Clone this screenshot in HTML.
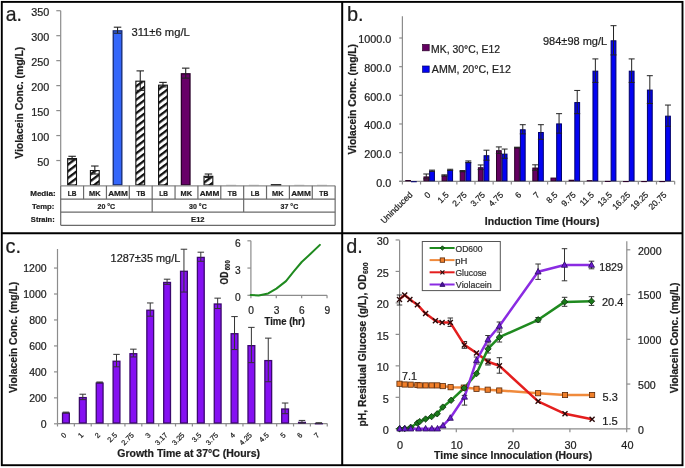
<!DOCTYPE html>
<html><head><meta charset="utf-8"><style>
html,body{margin:0;padding:0;background:#fff;}
svg{display:block;}
text{font-family:"Liberation Sans",sans-serif;}
</style></head><body>
<svg width="685" height="468" viewBox="0 0 685 468" style="will-change:transform">
<defs>
<pattern id="hatch" patternUnits="userSpaceOnUse" width="10" height="5.35" patternTransform="rotate(-37)">
<rect width="10" height="5.35" fill="#fff"/><rect width="10" height="2.3" fill="#111"/>
</pattern>
</defs>
<rect width="685" height="468" fill="#fff"/>
<line x1="60.7" y1="10.71" x2="60.7" y2="185.8" stroke="#8c8c8c" stroke-width="1.2" />
<line x1="56.3" y1="160.53" x2="60.7" y2="160.53" stroke="#8c8c8c" stroke-width="1.2" />
<text transform="translate(37.34,166.09)" font-size="10.8" font-weight="normal" fill="#1e1e1e" stroke="#1e1e1e" stroke-width="0.22" >50</text>
<line x1="56.3" y1="135.56" x2="60.7" y2="135.56" stroke="#8c8c8c" stroke-width="1.2" />
<text transform="translate(31.35,141.12)" font-size="10.8" font-weight="normal" fill="#1e1e1e" stroke="#1e1e1e" stroke-width="0.22" >100</text>
<line x1="56.3" y1="110.59" x2="60.7" y2="110.59" stroke="#8c8c8c" stroke-width="1.2" />
<text transform="translate(31.35,116.15)" font-size="10.8" font-weight="normal" fill="#1e1e1e" stroke="#1e1e1e" stroke-width="0.22" >150</text>
<line x1="56.3" y1="85.62" x2="60.7" y2="85.62" stroke="#8c8c8c" stroke-width="1.2" />
<text transform="translate(31.35,91.18)" font-size="10.8" font-weight="normal" fill="#1e1e1e" stroke="#1e1e1e" stroke-width="0.22" >200</text>
<line x1="56.3" y1="60.65" x2="60.7" y2="60.65" stroke="#8c8c8c" stroke-width="1.2" />
<text transform="translate(31.35,66.21)" font-size="10.8" font-weight="normal" fill="#1e1e1e" stroke="#1e1e1e" stroke-width="0.22" >250</text>
<line x1="56.3" y1="35.68" x2="60.7" y2="35.68" stroke="#8c8c8c" stroke-width="1.2" />
<text transform="translate(31.35,41.24)" font-size="10.8" font-weight="normal" fill="#1e1e1e" stroke="#1e1e1e" stroke-width="0.22" >300</text>
<line x1="56.3" y1="10.71" x2="60.7" y2="10.71" stroke="#8c8c8c" stroke-width="1.2" />
<text transform="translate(31.35,16.27)" font-size="10.8" font-weight="normal" fill="#1e1e1e" stroke="#1e1e1e" stroke-width="0.22" >350</text>
<rect x="67.7" y="158.58" width="8.8" height="26.37" fill="url(#hatch)" stroke="#111" stroke-width="1.1" />
<line x1="72.1" y1="156.29" x2="72.1" y2="159.78" stroke="#222" stroke-width="1.1" />
<line x1="68.35" y1="156.29" x2="75.85" y2="156.29" stroke="#222" stroke-width="1.1" />
<line x1="68.35" y1="159.78" x2="75.85" y2="159.78" stroke="#222" stroke-width="1.1" />
<rect x="90.42" y="170.57" width="8.8" height="14.38" fill="url(#hatch)" stroke="#111" stroke-width="1.1" />
<line x1="94.82" y1="166.02" x2="94.82" y2="174.01" stroke="#222" stroke-width="1.1" />
<line x1="91.07" y1="166.02" x2="98.57" y2="166.02" stroke="#222" stroke-width="1.1" />
<line x1="91.07" y1="174.01" x2="98.57" y2="174.01" stroke="#222" stroke-width="1.1" />
<rect x="113.24" y="30.84" width="8.6" height="154.01" fill="#3466fa" stroke="#142870" stroke-width="1.3" />
<line x1="117.54" y1="27.19" x2="117.54" y2="33.18" stroke="#222" stroke-width="1.1" />
<line x1="113.79" y1="27.19" x2="121.29" y2="27.19" stroke="#222" stroke-width="1.1" />
<line x1="113.79" y1="33.18" x2="121.29" y2="33.18" stroke="#222" stroke-width="1.1" />
<rect x="135.86" y="81.18" width="8.8" height="103.77" fill="url(#hatch)" stroke="#111" stroke-width="1.1" />
<line x1="140.26" y1="70.89" x2="140.26" y2="90.36" stroke="#222" stroke-width="1.1" />
<line x1="136.51" y1="70.89" x2="144.01" y2="70.89" stroke="#222" stroke-width="1.1" />
<line x1="136.51" y1="90.36" x2="144.01" y2="90.36" stroke="#222" stroke-width="1.1" />
<rect x="158.58" y="85.17" width="8.8" height="99.78" fill="url(#hatch)" stroke="#111" stroke-width="1.1" />
<line x1="162.98" y1="82.37" x2="162.98" y2="86.87" stroke="#222" stroke-width="1.1" />
<line x1="159.23" y1="82.37" x2="166.73" y2="82.37" stroke="#222" stroke-width="1.1" />
<line x1="159.23" y1="86.87" x2="166.73" y2="86.87" stroke="#222" stroke-width="1.1" />
<rect x="181.4" y="73.78" width="8.6" height="111.07" fill="#680068" stroke="#2a002a" stroke-width="1.3" />
<line x1="185.7" y1="68.14" x2="185.7" y2="78.13" stroke="#222" stroke-width="1.1" />
<line x1="181.95" y1="68.14" x2="189.45" y2="68.14" stroke="#222" stroke-width="1.1" />
<line x1="181.95" y1="78.13" x2="189.45" y2="78.13" stroke="#222" stroke-width="1.1" />
<rect x="204.02" y="176.31" width="8.8" height="8.64" fill="url(#hatch)" stroke="#111" stroke-width="1.1" />
<line x1="208.42" y1="174.01" x2="208.42" y2="177.51" stroke="#222" stroke-width="1.1" />
<line x1="204.67" y1="174.01" x2="212.17" y2="174.01" stroke="#222" stroke-width="1.1" />
<line x1="204.67" y1="177.51" x2="212.17" y2="177.51" stroke="#222" stroke-width="1.1" />
<line x1="226.14" y1="185.2" x2="236.14" y2="185.2" stroke="#c8c8c8" stroke-width="1" />
<line x1="248.86" y1="185.2" x2="258.86" y2="185.2" stroke="#c8c8c8" stroke-width="1" />
<rect x="270.78" y="184.1" width="10.5" height="1.9" fill="#1a1a1a" stroke="none" stroke-width="1" />
<line x1="294.3" y1="185.2" x2="304.3" y2="185.2" stroke="#c8c8c8" stroke-width="1" />
<line x1="317.02" y1="185.2" x2="327.02" y2="185.2" stroke="#c8c8c8" stroke-width="1" />
<line x1="60.7" y1="185.8" x2="335.14" y2="185.8" stroke="#8c8c8c" stroke-width="1.3" />
<line x1="60.7" y1="199.1" x2="335.14" y2="199.1" stroke="#6a6a6a" stroke-width="1.2" />
<line x1="60.7" y1="212.1" x2="335.14" y2="212.1" stroke="#6a6a6a" stroke-width="1.2" />
<line x1="60.7" y1="225.3" x2="335.14" y2="225.3" stroke="#6a6a6a" stroke-width="1.2" />
<line x1="60.7" y1="185.8" x2="60.7" y2="199.1" stroke="#6a6a6a" stroke-width="1.2" />
<line x1="83.57" y1="185.8" x2="83.57" y2="199.1" stroke="#6a6a6a" stroke-width="1.2" />
<line x1="106.44" y1="185.8" x2="106.44" y2="199.1" stroke="#6a6a6a" stroke-width="1.2" />
<line x1="129.31" y1="185.8" x2="129.31" y2="199.1" stroke="#6a6a6a" stroke-width="1.2" />
<line x1="152.18" y1="185.8" x2="152.18" y2="199.1" stroke="#6a6a6a" stroke-width="1.2" />
<line x1="175.05" y1="185.8" x2="175.05" y2="199.1" stroke="#6a6a6a" stroke-width="1.2" />
<line x1="197.92" y1="185.8" x2="197.92" y2="199.1" stroke="#6a6a6a" stroke-width="1.2" />
<line x1="220.79" y1="185.8" x2="220.79" y2="199.1" stroke="#6a6a6a" stroke-width="1.2" />
<line x1="243.66" y1="185.8" x2="243.66" y2="199.1" stroke="#6a6a6a" stroke-width="1.2" />
<line x1="266.53" y1="185.8" x2="266.53" y2="199.1" stroke="#6a6a6a" stroke-width="1.2" />
<line x1="289.4" y1="185.8" x2="289.4" y2="199.1" stroke="#6a6a6a" stroke-width="1.2" />
<line x1="312.27" y1="185.8" x2="312.27" y2="199.1" stroke="#6a6a6a" stroke-width="1.2" />
<line x1="335.14" y1="185.8" x2="335.14" y2="199.1" stroke="#6a6a6a" stroke-width="1.2" />
<line x1="60.7" y1="199.1" x2="60.7" y2="212.1" stroke="#6a6a6a" stroke-width="1.2" />
<line x1="152.18" y1="199.1" x2="152.18" y2="212.1" stroke="#6a6a6a" stroke-width="1.2" />
<line x1="243.66" y1="199.1" x2="243.66" y2="212.1" stroke="#6a6a6a" stroke-width="1.2" />
<line x1="335.14" y1="199.1" x2="335.14" y2="212.1" stroke="#6a6a6a" stroke-width="1.2" />
<line x1="60.7" y1="212.1" x2="60.7" y2="225.3" stroke="#6a6a6a" stroke-width="1.2" />
<line x1="335.14" y1="212.1" x2="335.14" y2="225.3" stroke="#6a6a6a" stroke-width="1.2" />
<text transform="translate(67.71,196.08) scale(0.87,1)" font-size="7.5" font-weight="bold" fill="#1e1e1e" stroke="#1e1e1e" stroke-width="0.22" >LB</text>
<text transform="translate(89.02,196.08) scale(0.99,1)" font-size="7.5" font-weight="bold" fill="#1e1e1e" stroke="#1e1e1e" stroke-width="0.22" >MK</text>
<text transform="translate(108.17,196.08) scale(1.1,1)" font-size="7.5" font-weight="bold" fill="#1e1e1e" stroke="#1e1e1e" stroke-width="0.22" >AMM</text>
<text transform="translate(136.38,196.08) scale(0.9,1)" font-size="7.5" font-weight="bold" fill="#1e1e1e" stroke="#1e1e1e" stroke-width="0.22" >TB</text>
<text transform="translate(159.19,196.08) scale(0.87,1)" font-size="7.5" font-weight="bold" fill="#1e1e1e" stroke="#1e1e1e" stroke-width="0.22" >LB</text>
<text transform="translate(180.5,196.08) scale(0.99,1)" font-size="7.5" font-weight="bold" fill="#1e1e1e" stroke="#1e1e1e" stroke-width="0.22" >MK</text>
<text transform="translate(199.65,196.08) scale(1.1,1)" font-size="7.5" font-weight="bold" fill="#1e1e1e" stroke="#1e1e1e" stroke-width="0.22" >AMM</text>
<text transform="translate(227.86,196.08) scale(0.9,1)" font-size="7.5" font-weight="bold" fill="#1e1e1e" stroke="#1e1e1e" stroke-width="0.22" >TB</text>
<text transform="translate(250.67,196.08) scale(0.87,1)" font-size="7.5" font-weight="bold" fill="#1e1e1e" stroke="#1e1e1e" stroke-width="0.22" >LB</text>
<text transform="translate(271.98,196.08) scale(0.99,1)" font-size="7.5" font-weight="bold" fill="#1e1e1e" stroke="#1e1e1e" stroke-width="0.22" >MK</text>
<text transform="translate(291.13,196.08) scale(1.1,1)" font-size="7.5" font-weight="bold" fill="#1e1e1e" stroke="#1e1e1e" stroke-width="0.22" >AMM</text>
<text transform="translate(319.34,196.08) scale(0.9,1)" font-size="7.5" font-weight="bold" fill="#1e1e1e" stroke="#1e1e1e" stroke-width="0.22" >TB</text>
<text transform="translate(97.54,208.9) scale(0.88,1)" font-size="8" font-weight="bold" fill="#1e1e1e" stroke="#1e1e1e" stroke-width="0.22" >20 °C</text>
<text transform="translate(189.09,208.9) scale(0.88,1)" font-size="8" font-weight="bold" fill="#1e1e1e" stroke="#1e1e1e" stroke-width="0.22" >30 °C</text>
<text transform="translate(280.57,208.9) scale(0.88,1)" font-size="8" font-weight="bold" fill="#1e1e1e" stroke="#1e1e1e" stroke-width="0.22" >37 °C</text>
<text transform="translate(191.06,222.2) scale(0.95,1)" font-size="8" font-weight="bold" fill="#1e1e1e" stroke="#1e1e1e" stroke-width="0.22" >E12</text>
<text transform="translate(30.18,195.61) scale(1.06,1)" font-size="7.6" font-weight="bold" fill="#1e1e1e" stroke="#1e1e1e" stroke-width="0.22" >Media:</text>
<text transform="translate(31.92,208.64) scale(1.01,1)" font-size="7.6" font-weight="bold" fill="#1e1e1e" stroke="#1e1e1e" stroke-width="0.22" >Temp:</text>
<text transform="translate(30.87,221.81) scale(0.99,1)" font-size="7.6" font-weight="bold" fill="#1e1e1e" stroke="#1e1e1e" stroke-width="0.22" >Strain:</text>
<text transform="translate(131.45,35.59) scale(1.06,1)" font-size="10.6" font-weight="normal" fill="#1e1e1e" stroke="#1e1e1e" stroke-width="0.22" >311±6 mg/L</text>
<text transform="translate(23.31,158.8) rotate(-90) scale(0.9,1)" font-size="11.6" font-weight="bold" fill="#1e1e1e" stroke="#1e1e1e" stroke-width="0.22">Violacein Conc. (mg/L)</text>
<text transform="translate(5.63,20.7) scale(0.98,1)" font-size="19.8" font-weight="normal" fill="#1e1e1e" stroke="#1e1e1e" stroke-width="0.22" >a.</text>
<line x1="402.4" y1="16.2" x2="402.4" y2="181.5" stroke="#8c8c8c" stroke-width="1.2" />
<line x1="399.2" y1="181.3" x2="674.65" y2="181.3" stroke="#8c8c8c" stroke-width="1.2" />
<line x1="399.2" y1="181.3" x2="402.4" y2="181.3" stroke="#8c8c8c" stroke-width="1.2" />
<text transform="translate(376.3,186.58) scale(1.04,1)" font-size="10.4" font-weight="normal" fill="#1e1e1e" stroke="#1e1e1e" stroke-width="0.22" >0.0</text>
<line x1="399.2" y1="152.64" x2="402.4" y2="152.64" stroke="#8c8c8c" stroke-width="1.2" />
<text transform="translate(364.29,157.92) scale(1.04,1)" font-size="10.4" font-weight="normal" fill="#1e1e1e" stroke="#1e1e1e" stroke-width="0.22" >200.0</text>
<line x1="399.2" y1="123.98" x2="402.4" y2="123.98" stroke="#8c8c8c" stroke-width="1.2" />
<text transform="translate(364.29,129.26) scale(1.04,1)" font-size="10.4" font-weight="normal" fill="#1e1e1e" stroke="#1e1e1e" stroke-width="0.22" >400.0</text>
<line x1="399.2" y1="95.32" x2="402.4" y2="95.32" stroke="#8c8c8c" stroke-width="1.2" />
<text transform="translate(364.29,100.6) scale(1.04,1)" font-size="10.4" font-weight="normal" fill="#1e1e1e" stroke="#1e1e1e" stroke-width="0.22" >600.0</text>
<line x1="399.2" y1="66.66" x2="402.4" y2="66.66" stroke="#8c8c8c" stroke-width="1.2" />
<text transform="translate(364.29,71.94) scale(1.04,1)" font-size="10.4" font-weight="normal" fill="#1e1e1e" stroke="#1e1e1e" stroke-width="0.22" >800.0</text>
<line x1="399.2" y1="38" x2="402.4" y2="38" stroke="#8c8c8c" stroke-width="1.2" />
<text transform="translate(358.24,43.28) scale(1.04,1)" font-size="10.4" font-weight="normal" fill="#1e1e1e" stroke="#1e1e1e" stroke-width="0.22" >1000.0</text>
<line x1="402.4" y1="181.3" x2="402.4" y2="184.5" stroke="#8c8c8c" stroke-width="1.2" />
<line x1="420.55" y1="181.3" x2="420.55" y2="184.5" stroke="#8c8c8c" stroke-width="1.2" />
<line x1="438.7" y1="181.3" x2="438.7" y2="184.5" stroke="#8c8c8c" stroke-width="1.2" />
<line x1="456.85" y1="181.3" x2="456.85" y2="184.5" stroke="#8c8c8c" stroke-width="1.2" />
<line x1="475" y1="181.3" x2="475" y2="184.5" stroke="#8c8c8c" stroke-width="1.2" />
<line x1="493.15" y1="181.3" x2="493.15" y2="184.5" stroke="#8c8c8c" stroke-width="1.2" />
<line x1="511.3" y1="181.3" x2="511.3" y2="184.5" stroke="#8c8c8c" stroke-width="1.2" />
<line x1="529.45" y1="181.3" x2="529.45" y2="184.5" stroke="#8c8c8c" stroke-width="1.2" />
<line x1="547.6" y1="181.3" x2="547.6" y2="184.5" stroke="#8c8c8c" stroke-width="1.2" />
<line x1="565.75" y1="181.3" x2="565.75" y2="184.5" stroke="#8c8c8c" stroke-width="1.2" />
<line x1="583.9" y1="181.3" x2="583.9" y2="184.5" stroke="#8c8c8c" stroke-width="1.2" />
<line x1="602.05" y1="181.3" x2="602.05" y2="184.5" stroke="#8c8c8c" stroke-width="1.2" />
<line x1="620.2" y1="181.3" x2="620.2" y2="184.5" stroke="#8c8c8c" stroke-width="1.2" />
<line x1="638.35" y1="181.3" x2="638.35" y2="184.5" stroke="#8c8c8c" stroke-width="1.2" />
<line x1="656.5" y1="181.3" x2="656.5" y2="184.5" stroke="#8c8c8c" stroke-width="1.2" />
<line x1="674.65" y1="181.3" x2="674.65" y2="184.5" stroke="#8c8c8c" stroke-width="1.2" />
<rect x="405.77" y="180.51" width="4.7" height="0.29" fill="#640062" stroke="#2a0028" stroke-width="1" />
<rect x="411.47" y="181.66" width="4.8" height="0.1" fill="#0303f2" stroke="#00006a" stroke-width="1" />
<rect x="423.93" y="176.93" width="4.7" height="3.87" fill="#640062" stroke="#2a0028" stroke-width="1" />
<rect x="429.62" y="171.2" width="4.8" height="9.6" fill="#0303f2" stroke="#00006a" stroke-width="1" />
<line x1="426.27" y1="173.99" x2="426.27" y2="178.86" stroke="#222" stroke-width="1" />
<line x1="423.27" y1="173.99" x2="429.27" y2="173.99" stroke="#222" stroke-width="1" />
<line x1="423.27" y1="178.86" x2="429.27" y2="178.86" stroke="#222" stroke-width="1" />
<line x1="432.02" y1="170.12" x2="432.02" y2="171.27" stroke="#222" stroke-width="1" />
<line x1="429.02" y1="170.12" x2="435.02" y2="170.12" stroke="#222" stroke-width="1" />
<line x1="429.02" y1="171.27" x2="435.02" y2="171.27" stroke="#222" stroke-width="1" />
<rect x="442.07" y="175.92" width="4.7" height="4.88" fill="#640062" stroke="#2a0028" stroke-width="1" />
<rect x="447.77" y="170.34" width="4.8" height="10.46" fill="#0303f2" stroke="#00006a" stroke-width="1" />
<line x1="444.42" y1="174.85" x2="444.42" y2="176" stroke="#222" stroke-width="1" />
<line x1="441.42" y1="174.85" x2="447.42" y2="174.85" stroke="#222" stroke-width="1" />
<line x1="441.42" y1="176" x2="447.42" y2="176" stroke="#222" stroke-width="1" />
<line x1="450.17" y1="169.26" x2="450.17" y2="170.41" stroke="#222" stroke-width="1" />
<line x1="447.17" y1="169.26" x2="453.17" y2="169.26" stroke="#222" stroke-width="1" />
<line x1="447.17" y1="170.41" x2="453.17" y2="170.41" stroke="#222" stroke-width="1" />
<rect x="460.22" y="171.63" width="4.7" height="9.17" fill="#640062" stroke="#2a0028" stroke-width="1" />
<rect x="465.92" y="162.31" width="4.8" height="18.49" fill="#0303f2" stroke="#00006a" stroke-width="1" />
<line x1="462.57" y1="170.55" x2="462.57" y2="171.7" stroke="#222" stroke-width="1" />
<line x1="459.57" y1="170.55" x2="465.57" y2="170.55" stroke="#222" stroke-width="1" />
<line x1="459.57" y1="171.7" x2="465.57" y2="171.7" stroke="#222" stroke-width="1" />
<line x1="468.32" y1="160.95" x2="468.32" y2="162.67" stroke="#222" stroke-width="1" />
<line x1="465.32" y1="160.95" x2="471.32" y2="160.95" stroke="#222" stroke-width="1" />
<line x1="465.32" y1="162.67" x2="471.32" y2="162.67" stroke="#222" stroke-width="1" />
<rect x="478.38" y="167.76" width="4.7" height="13.04" fill="#640062" stroke="#2a0028" stroke-width="1" />
<rect x="484.07" y="155.72" width="4.8" height="25.08" fill="#0303f2" stroke="#00006a" stroke-width="1" />
<line x1="480.72" y1="164.96" x2="480.72" y2="169.55" stroke="#222" stroke-width="1" />
<line x1="477.72" y1="164.96" x2="483.72" y2="164.96" stroke="#222" stroke-width="1" />
<line x1="477.72" y1="169.55" x2="483.72" y2="169.55" stroke="#222" stroke-width="1" />
<line x1="486.47" y1="150.2" x2="486.47" y2="160.23" stroke="#222" stroke-width="1" />
<line x1="483.47" y1="150.2" x2="489.47" y2="150.2" stroke="#222" stroke-width="1" />
<line x1="483.47" y1="160.23" x2="489.47" y2="160.23" stroke="#222" stroke-width="1" />
<rect x="496.52" y="150.7" width="4.7" height="30.1" fill="#640062" stroke="#2a0028" stroke-width="1" />
<rect x="502.22" y="154.14" width="4.8" height="26.66" fill="#0303f2" stroke="#00006a" stroke-width="1" />
<line x1="498.87" y1="146.91" x2="498.87" y2="153.5" stroke="#222" stroke-width="1" />
<line x1="495.87" y1="146.91" x2="501.87" y2="146.91" stroke="#222" stroke-width="1" />
<line x1="495.87" y1="153.5" x2="501.87" y2="153.5" stroke="#222" stroke-width="1" />
<line x1="504.62" y1="149.06" x2="504.62" y2="158.23" stroke="#222" stroke-width="1" />
<line x1="501.62" y1="149.06" x2="507.62" y2="149.06" stroke="#222" stroke-width="1" />
<line x1="501.62" y1="158.23" x2="507.62" y2="158.23" stroke="#222" stroke-width="1" />
<rect x="514.67" y="147.98" width="4.7" height="32.82" fill="#640062" stroke="#2a0028" stroke-width="1" />
<rect x="520.38" y="129.78" width="4.8" height="51.02" fill="#0303f2" stroke="#00006a" stroke-width="1" />
<line x1="517.02" y1="147.19" x2="517.02" y2="147.77" stroke="#222" stroke-width="1" />
<line x1="514.02" y1="147.19" x2="520.02" y2="147.19" stroke="#222" stroke-width="1" />
<line x1="514.02" y1="147.77" x2="520.02" y2="147.77" stroke="#222" stroke-width="1" />
<line x1="522.77" y1="124.7" x2="522.77" y2="133.87" stroke="#222" stroke-width="1" />
<line x1="519.77" y1="124.7" x2="525.77" y2="124.7" stroke="#222" stroke-width="1" />
<line x1="519.77" y1="133.87" x2="525.77" y2="133.87" stroke="#222" stroke-width="1" />
<rect x="532.82" y="168.04" width="4.7" height="12.76" fill="#640062" stroke="#2a0028" stroke-width="1" />
<rect x="538.52" y="132.5" width="4.8" height="48.3" fill="#0303f2" stroke="#00006a" stroke-width="1" />
<line x1="535.17" y1="164.82" x2="535.17" y2="170.27" stroke="#222" stroke-width="1" />
<line x1="532.17" y1="164.82" x2="538.17" y2="164.82" stroke="#222" stroke-width="1" />
<line x1="532.17" y1="170.27" x2="538.17" y2="170.27" stroke="#222" stroke-width="1" />
<line x1="540.92" y1="124.7" x2="540.92" y2="139.31" stroke="#222" stroke-width="1" />
<line x1="537.92" y1="124.7" x2="543.92" y2="124.7" stroke="#222" stroke-width="1" />
<line x1="537.92" y1="139.31" x2="543.92" y2="139.31" stroke="#222" stroke-width="1" />
<rect x="550.97" y="178.07" width="4.7" height="2.73" fill="#640062" stroke="#2a0028" stroke-width="1" />
<rect x="556.67" y="123.91" width="4.8" height="56.89" fill="#0303f2" stroke="#00006a" stroke-width="1" />
<line x1="559.07" y1="113.66" x2="559.07" y2="133.15" stroke="#222" stroke-width="1" />
<line x1="556.07" y1="113.66" x2="562.07" y2="113.66" stroke="#222" stroke-width="1" />
<line x1="556.07" y1="133.15" x2="562.07" y2="133.15" stroke="#222" stroke-width="1" />
<rect x="569.12" y="180.22" width="4.7" height="0.58" fill="#640062" stroke="#2a0028" stroke-width="1" />
<rect x="574.82" y="102.56" width="4.8" height="78.24" fill="#0303f2" stroke="#00006a" stroke-width="1" />
<line x1="577.22" y1="90.45" x2="577.22" y2="113.66" stroke="#222" stroke-width="1" />
<line x1="574.22" y1="90.45" x2="580.22" y2="90.45" stroke="#222" stroke-width="1" />
<line x1="574.22" y1="113.66" x2="580.22" y2="113.66" stroke="#222" stroke-width="1" />
<rect x="587.27" y="180.65" width="4.7" height="0.15" fill="#640062" stroke="#2a0028" stroke-width="1" />
<rect x="592.97" y="71.17" width="4.8" height="109.63" fill="#0303f2" stroke="#00006a" stroke-width="1" />
<line x1="595.37" y1="58.92" x2="595.37" y2="82.42" stroke="#222" stroke-width="1" />
<line x1="592.37" y1="58.92" x2="598.37" y2="58.92" stroke="#222" stroke-width="1" />
<line x1="592.37" y1="82.42" x2="598.37" y2="82.42" stroke="#222" stroke-width="1" />
<rect x="605.42" y="181.37" width="4.7" height="0.1" fill="#640062" stroke="#2a0028" stroke-width="1" />
<rect x="611.12" y="40.79" width="4.8" height="140.01" fill="#0303f2" stroke="#00006a" stroke-width="1" />
<line x1="613.52" y1="25.68" x2="613.52" y2="54.91" stroke="#222" stroke-width="1" />
<line x1="610.52" y1="25.68" x2="616.52" y2="25.68" stroke="#222" stroke-width="1" />
<line x1="610.52" y1="54.91" x2="616.52" y2="54.91" stroke="#222" stroke-width="1" />
<rect x="623.57" y="181.51" width="4.7" height="0.1" fill="#640062" stroke="#2a0028" stroke-width="1" />
<rect x="629.27" y="71.17" width="4.8" height="109.63" fill="#0303f2" stroke="#00006a" stroke-width="1" />
<line x1="631.67" y1="58.92" x2="631.67" y2="82.42" stroke="#222" stroke-width="1" />
<line x1="628.67" y1="58.92" x2="634.67" y2="58.92" stroke="#222" stroke-width="1" />
<line x1="628.67" y1="82.42" x2="634.67" y2="82.42" stroke="#222" stroke-width="1" />
<rect x="641.72" y="181.51" width="4.7" height="0.1" fill="#640062" stroke="#2a0028" stroke-width="1" />
<rect x="647.42" y="90.09" width="4.8" height="90.71" fill="#0303f2" stroke="#00006a" stroke-width="1" />
<line x1="649.82" y1="75.69" x2="649.82" y2="103.49" stroke="#222" stroke-width="1" />
<line x1="646.82" y1="75.69" x2="652.82" y2="75.69" stroke="#222" stroke-width="1" />
<line x1="646.82" y1="103.49" x2="652.82" y2="103.49" stroke="#222" stroke-width="1" />
<rect x="659.87" y="181.51" width="4.7" height="0.1" fill="#640062" stroke="#2a0028" stroke-width="1" />
<rect x="665.57" y="116.17" width="4.8" height="64.63" fill="#0303f2" stroke="#00006a" stroke-width="1" />
<line x1="667.97" y1="105.06" x2="667.97" y2="126.27" stroke="#222" stroke-width="1" />
<line x1="664.97" y1="105.06" x2="670.97" y2="105.06" stroke="#222" stroke-width="1" />
<line x1="664.97" y1="126.27" x2="670.97" y2="126.27" stroke="#222" stroke-width="1" />
<text transform="translate(410.87,193.2) rotate(-45)" x="0" y="2.97" text-anchor="end" font-size="8.5" font-weight="normal" fill="#1e1e1e" stroke="#1e1e1e" stroke-width="0.22">Uninduced</text>
<text transform="translate(429.02,193.2) rotate(-45)" x="0" y="2.97" text-anchor="end" font-size="8.5" font-weight="normal" fill="#1e1e1e" stroke="#1e1e1e" stroke-width="0.22">0</text>
<text transform="translate(447.17,193.2) rotate(-45)" x="0" y="2.97" text-anchor="end" font-size="8.5" font-weight="normal" fill="#1e1e1e" stroke="#1e1e1e" stroke-width="0.22">1.5</text>
<text transform="translate(465.32,193.2) rotate(-45)" x="0" y="2.97" text-anchor="end" font-size="8.5" font-weight="normal" fill="#1e1e1e" stroke="#1e1e1e" stroke-width="0.22">2.75</text>
<text transform="translate(483.47,193.2) rotate(-45)" x="0" y="2.97" text-anchor="end" font-size="8.5" font-weight="normal" fill="#1e1e1e" stroke="#1e1e1e" stroke-width="0.22">3.75</text>
<text transform="translate(501.62,193.2) rotate(-45)" x="0" y="2.97" text-anchor="end" font-size="8.5" font-weight="normal" fill="#1e1e1e" stroke="#1e1e1e" stroke-width="0.22">4.75</text>
<text transform="translate(519.77,193.2) rotate(-45)" x="0" y="2.97" text-anchor="end" font-size="8.5" font-weight="normal" fill="#1e1e1e" stroke="#1e1e1e" stroke-width="0.22">6</text>
<text transform="translate(537.92,193.2) rotate(-45)" x="0" y="2.97" text-anchor="end" font-size="8.5" font-weight="normal" fill="#1e1e1e" stroke="#1e1e1e" stroke-width="0.22">7</text>
<text transform="translate(556.07,193.2) rotate(-45)" x="0" y="2.97" text-anchor="end" font-size="8.5" font-weight="normal" fill="#1e1e1e" stroke="#1e1e1e" stroke-width="0.22">8.5</text>
<text transform="translate(574.22,193.2) rotate(-45)" x="0" y="2.97" text-anchor="end" font-size="8.5" font-weight="normal" fill="#1e1e1e" stroke="#1e1e1e" stroke-width="0.22">9.75</text>
<text transform="translate(592.37,193.2) rotate(-45)" x="0" y="2.97" text-anchor="end" font-size="8.5" font-weight="normal" fill="#1e1e1e" stroke="#1e1e1e" stroke-width="0.22">11.5</text>
<text transform="translate(610.52,193.2) rotate(-45)" x="0" y="2.97" text-anchor="end" font-size="8.5" font-weight="normal" fill="#1e1e1e" stroke="#1e1e1e" stroke-width="0.22">13.5</text>
<text transform="translate(628.67,193.2) rotate(-45)" x="0" y="2.97" text-anchor="end" font-size="8.5" font-weight="normal" fill="#1e1e1e" stroke="#1e1e1e" stroke-width="0.22">16.25</text>
<text transform="translate(646.82,193.2) rotate(-45)" x="0" y="2.97" text-anchor="end" font-size="8.5" font-weight="normal" fill="#1e1e1e" stroke="#1e1e1e" stroke-width="0.22">19.25</text>
<text transform="translate(664.97,193.2) rotate(-45)" x="0" y="2.97" text-anchor="end" font-size="8.5" font-weight="normal" fill="#1e1e1e" stroke="#1e1e1e" stroke-width="0.22">20.75</text>
<rect x="422.6" y="44.5" width="6.6" height="6.3" fill="#640062" stroke="#2a0028" stroke-width="0.7" />
<rect x="422.6" y="66" width="6.6" height="6.3" fill="#0303f2" stroke="#00006a" stroke-width="0.7" />
<text transform="translate(431.06,52.64) scale(1.02,1)" font-size="10.2" font-weight="normal" fill="#1e1e1e" stroke="#1e1e1e" stroke-width="0.22" >MK, 30°C, E12</text>
<text transform="translate(431.85,73.44) scale(1.04,1)" font-size="10.2" font-weight="normal" fill="#1e1e1e" stroke="#1e1e1e" stroke-width="0.22" >AMM, 20°C, E12</text>
<text transform="translate(543,44.93) scale(1.02,1)" font-size="10.8" font-weight="normal" fill="#1e1e1e" stroke="#1e1e1e" stroke-width="0.22" >984±98 mg/L</text>
<text transform="translate(484.81,224.84) scale(1.01,1)" font-size="10.4" font-weight="bold" fill="#1e1e1e" stroke="#1e1e1e" stroke-width="0.22" >Induction Time (Hours)</text>
<text transform="translate(355.69,154.6) rotate(-90) scale(0.97,1)" font-size="10.6" font-weight="bold" fill="#1e1e1e" stroke="#1e1e1e" stroke-width="0.22">Violacein Conc. (mg/L)</text>
<text transform="translate(347,21) scale(1.01,1)" font-size="19.8" font-weight="normal" fill="#1e1e1e" stroke="#1e1e1e" stroke-width="0.22" >b.</text>
<line x1="57.5" y1="249" x2="57.5" y2="423.8" stroke="#8c8c8c" stroke-width="1.2" />
<line x1="57.5" y1="423.6" x2="327.26" y2="423.6" stroke="#8c8c8c" stroke-width="1.2" />
<line x1="54" y1="423.8" x2="57.5" y2="423.8" stroke="#8c8c8c" stroke-width="1.2" />
<text transform="translate(40.79,428.25)" font-size="10.5" font-weight="normal" fill="#1e1e1e" stroke="#1e1e1e" stroke-width="0.22" >0</text>
<line x1="54" y1="397.84" x2="57.5" y2="397.84" stroke="#8c8c8c" stroke-width="1.2" />
<text transform="translate(29.14,402.29)" font-size="10.5" font-weight="normal" fill="#1e1e1e" stroke="#1e1e1e" stroke-width="0.22" >200</text>
<line x1="54" y1="371.88" x2="57.5" y2="371.88" stroke="#8c8c8c" stroke-width="1.2" />
<text transform="translate(29.14,376.33)" font-size="10.5" font-weight="normal" fill="#1e1e1e" stroke="#1e1e1e" stroke-width="0.22" >400</text>
<line x1="54" y1="345.92" x2="57.5" y2="345.92" stroke="#8c8c8c" stroke-width="1.2" />
<text transform="translate(29.14,350.37)" font-size="10.5" font-weight="normal" fill="#1e1e1e" stroke="#1e1e1e" stroke-width="0.22" >600</text>
<line x1="54" y1="319.96" x2="57.5" y2="319.96" stroke="#8c8c8c" stroke-width="1.2" />
<text transform="translate(29.14,324.41)" font-size="10.5" font-weight="normal" fill="#1e1e1e" stroke="#1e1e1e" stroke-width="0.22" >800</text>
<line x1="54" y1="294" x2="57.5" y2="294" stroke="#8c8c8c" stroke-width="1.2" />
<text transform="translate(23.26,298.45)" font-size="10.5" font-weight="normal" fill="#1e1e1e" stroke="#1e1e1e" stroke-width="0.22" >1000</text>
<line x1="54" y1="268.04" x2="57.5" y2="268.04" stroke="#8c8c8c" stroke-width="1.2" />
<text transform="translate(23.26,272.49)" font-size="10.5" font-weight="normal" fill="#1e1e1e" stroke="#1e1e1e" stroke-width="0.22" >1200</text>
<line x1="57.5" y1="423.6" x2="57.5" y2="426.5" stroke="#8c8c8c" stroke-width="1.2" />
<line x1="74.36" y1="423.6" x2="74.36" y2="426.5" stroke="#8c8c8c" stroke-width="1.2" />
<line x1="91.22" y1="423.6" x2="91.22" y2="426.5" stroke="#8c8c8c" stroke-width="1.2" />
<line x1="108.08" y1="423.6" x2="108.08" y2="426.5" stroke="#8c8c8c" stroke-width="1.2" />
<line x1="124.94" y1="423.6" x2="124.94" y2="426.5" stroke="#8c8c8c" stroke-width="1.2" />
<line x1="141.8" y1="423.6" x2="141.8" y2="426.5" stroke="#8c8c8c" stroke-width="1.2" />
<line x1="158.66" y1="423.6" x2="158.66" y2="426.5" stroke="#8c8c8c" stroke-width="1.2" />
<line x1="175.52" y1="423.6" x2="175.52" y2="426.5" stroke="#8c8c8c" stroke-width="1.2" />
<line x1="192.38" y1="423.6" x2="192.38" y2="426.5" stroke="#8c8c8c" stroke-width="1.2" />
<line x1="209.24" y1="423.6" x2="209.24" y2="426.5" stroke="#8c8c8c" stroke-width="1.2" />
<line x1="226.1" y1="423.6" x2="226.1" y2="426.5" stroke="#8c8c8c" stroke-width="1.2" />
<line x1="242.96" y1="423.6" x2="242.96" y2="426.5" stroke="#8c8c8c" stroke-width="1.2" />
<line x1="259.82" y1="423.6" x2="259.82" y2="426.5" stroke="#8c8c8c" stroke-width="1.2" />
<line x1="276.68" y1="423.6" x2="276.68" y2="426.5" stroke="#8c8c8c" stroke-width="1.2" />
<line x1="293.54" y1="423.6" x2="293.54" y2="426.5" stroke="#8c8c8c" stroke-width="1.2" />
<line x1="310.4" y1="423.6" x2="310.4" y2="426.5" stroke="#8c8c8c" stroke-width="1.2" />
<line x1="327.26" y1="423.6" x2="327.26" y2="426.5" stroke="#8c8c8c" stroke-width="1.2" />
<rect x="62.53" y="413.16" width="6.8" height="9.79" fill="#8510f2" stroke="#3c0870" stroke-width="1.3" />
<line x1="65.93" y1="412.12" x2="65.93" y2="412.9" stroke="#333" stroke-width="1" />
<line x1="62.68" y1="412.12" x2="69.18" y2="412.12" stroke="#333" stroke-width="1" />
<line x1="62.68" y1="412.9" x2="69.18" y2="412.9" stroke="#333" stroke-width="1" />
<rect x="79.39" y="397.58" width="6.8" height="25.37" fill="#8510f2" stroke="#3c0870" stroke-width="1.3" />
<line x1="82.79" y1="394.21" x2="82.79" y2="399.66" stroke="#333" stroke-width="1" />
<line x1="79.54" y1="394.21" x2="86.04" y2="394.21" stroke="#333" stroke-width="1" />
<line x1="79.54" y1="399.66" x2="86.04" y2="399.66" stroke="#333" stroke-width="1" />
<rect x="96.25" y="383.04" width="6.8" height="39.91" fill="#8510f2" stroke="#3c0870" stroke-width="1.3" />
<line x1="99.65" y1="382" x2="99.65" y2="382.78" stroke="#333" stroke-width="1" />
<line x1="96.4" y1="382" x2="102.9" y2="382" stroke="#333" stroke-width="1" />
<line x1="96.4" y1="382.78" x2="102.9" y2="382.78" stroke="#333" stroke-width="1" />
<rect x="113.11" y="361.24" width="6.8" height="61.71" fill="#8510f2" stroke="#3c0870" stroke-width="1.3" />
<line x1="116.51" y1="354.36" x2="116.51" y2="366.82" stroke="#333" stroke-width="1" />
<line x1="113.26" y1="354.36" x2="119.76" y2="354.36" stroke="#333" stroke-width="1" />
<line x1="113.26" y1="366.82" x2="119.76" y2="366.82" stroke="#333" stroke-width="1" />
<rect x="129.97" y="353.71" width="6.8" height="69.24" fill="#8510f2" stroke="#3c0870" stroke-width="1.3" />
<line x1="133.37" y1="349.17" x2="133.37" y2="356.95" stroke="#333" stroke-width="1" />
<line x1="130.12" y1="349.17" x2="136.62" y2="349.17" stroke="#333" stroke-width="1" />
<line x1="130.12" y1="356.95" x2="136.62" y2="356.95" stroke="#333" stroke-width="1" />
<rect x="146.83" y="310.23" width="6.8" height="112.72" fill="#8510f2" stroke="#3c0870" stroke-width="1.3" />
<line x1="150.23" y1="302.96" x2="150.23" y2="316.2" stroke="#333" stroke-width="1" />
<line x1="146.98" y1="302.96" x2="153.48" y2="302.96" stroke="#333" stroke-width="1" />
<line x1="146.98" y1="316.2" x2="153.48" y2="316.2" stroke="#333" stroke-width="1" />
<rect x="163.69" y="282.45" width="6.8" height="140.5" fill="#8510f2" stroke="#3c0870" stroke-width="1.3" />
<line x1="167.09" y1="279.2" x2="167.09" y2="284.39" stroke="#333" stroke-width="1" />
<line x1="163.84" y1="279.2" x2="170.34" y2="279.2" stroke="#333" stroke-width="1" />
<line x1="163.84" y1="284.39" x2="170.34" y2="284.39" stroke="#333" stroke-width="1" />
<rect x="180.55" y="271.29" width="6.8" height="151.66" fill="#8510f2" stroke="#3c0870" stroke-width="1.3" />
<line x1="183.95" y1="249.22" x2="183.95" y2="292.05" stroke="#333" stroke-width="1" />
<line x1="180.7" y1="249.22" x2="187.2" y2="249.22" stroke="#333" stroke-width="1" />
<line x1="180.7" y1="292.05" x2="187.2" y2="292.05" stroke="#333" stroke-width="1" />
<rect x="197.41" y="257.4" width="6.8" height="165.55" fill="#8510f2" stroke="#3c0870" stroke-width="1.3" />
<line x1="200.81" y1="252.2" x2="200.81" y2="261.29" stroke="#333" stroke-width="1" />
<line x1="197.56" y1="252.2" x2="204.06" y2="252.2" stroke="#333" stroke-width="1" />
<line x1="197.56" y1="261.29" x2="204.06" y2="261.29" stroke="#333" stroke-width="1" />
<rect x="214.27" y="304" width="6.8" height="118.95" fill="#8510f2" stroke="#3c0870" stroke-width="1.3" />
<line x1="217.67" y1="298.15" x2="217.67" y2="308.54" stroke="#333" stroke-width="1" />
<line x1="214.42" y1="298.15" x2="220.92" y2="298.15" stroke="#333" stroke-width="1" />
<line x1="214.42" y1="308.54" x2="220.92" y2="308.54" stroke="#333" stroke-width="1" />
<rect x="231.13" y="333.72" width="6.8" height="89.23" fill="#8510f2" stroke="#3c0870" stroke-width="1.3" />
<line x1="234.53" y1="316.59" x2="234.53" y2="349.55" stroke="#333" stroke-width="1" />
<line x1="231.28" y1="316.59" x2="237.78" y2="316.59" stroke="#333" stroke-width="1" />
<line x1="231.28" y1="349.55" x2="237.78" y2="349.55" stroke="#333" stroke-width="1" />
<rect x="247.99" y="345.66" width="6.8" height="77.29" fill="#8510f2" stroke="#3c0870" stroke-width="1.3" />
<line x1="251.39" y1="327.36" x2="251.39" y2="362.66" stroke="#333" stroke-width="1" />
<line x1="248.14" y1="327.36" x2="254.64" y2="327.36" stroke="#333" stroke-width="1" />
<line x1="248.14" y1="362.66" x2="254.64" y2="362.66" stroke="#333" stroke-width="1" />
<rect x="264.85" y="360.59" width="6.8" height="62.36" fill="#8510f2" stroke="#3c0870" stroke-width="1.3" />
<line x1="268.25" y1="338.13" x2="268.25" y2="381.74" stroke="#333" stroke-width="1" />
<line x1="265" y1="338.13" x2="271.5" y2="338.13" stroke="#333" stroke-width="1" />
<line x1="265" y1="381.74" x2="271.5" y2="381.74" stroke="#333" stroke-width="1" />
<rect x="281.71" y="409" width="6.8" height="13.95" fill="#8510f2" stroke="#3c0870" stroke-width="1.3" />
<line x1="285.11" y1="403.03" x2="285.11" y2="413.68" stroke="#333" stroke-width="1" />
<line x1="281.86" y1="403.03" x2="288.36" y2="403.03" stroke="#333" stroke-width="1" />
<line x1="281.86" y1="413.68" x2="288.36" y2="413.68" stroke="#333" stroke-width="1" />
<rect x="298.57" y="422.37" width="6.8" height="0.58" fill="#8510f2" stroke="#3c0870" stroke-width="1.3" />
<line x1="301.97" y1="420.43" x2="301.97" y2="423.02" stroke="#333" stroke-width="1" />
<line x1="298.72" y1="420.43" x2="305.22" y2="420.43" stroke="#333" stroke-width="1" />
<line x1="298.72" y1="423.02" x2="305.22" y2="423.02" stroke="#333" stroke-width="1" />
<rect x="315.43" y="423.67" width="6.8" height="0.1" fill="#8510f2" stroke="#3c0870" stroke-width="1.3" />
<line x1="318.83" y1="422.76" x2="318.83" y2="423.28" stroke="#333" stroke-width="1" />
<line x1="315.58" y1="422.76" x2="322.08" y2="422.76" stroke="#333" stroke-width="1" />
<line x1="315.58" y1="423.28" x2="322.08" y2="423.28" stroke="#333" stroke-width="1" />
<text transform="translate(65.13,433.8) rotate(-45)" x="0" y="2.55" text-anchor="end" font-size="7.3" font-weight="normal" fill="#1e1e1e" stroke="#1e1e1e" stroke-width="0.22">0</text>
<text transform="translate(81.99,433.8) rotate(-45)" x="0" y="2.55" text-anchor="end" font-size="7.3" font-weight="normal" fill="#1e1e1e" stroke="#1e1e1e" stroke-width="0.22">1</text>
<text transform="translate(98.85,433.8) rotate(-45)" x="0" y="2.55" text-anchor="end" font-size="7.3" font-weight="normal" fill="#1e1e1e" stroke="#1e1e1e" stroke-width="0.22">2</text>
<text transform="translate(115.71,433.8) rotate(-45)" x="0" y="2.55" text-anchor="end" font-size="7.3" font-weight="normal" fill="#1e1e1e" stroke="#1e1e1e" stroke-width="0.22">2.5</text>
<text transform="translate(132.57,433.8) rotate(-45)" x="0" y="2.55" text-anchor="end" font-size="7.3" font-weight="normal" fill="#1e1e1e" stroke="#1e1e1e" stroke-width="0.22">2.75</text>
<text transform="translate(149.43,433.8) rotate(-45)" x="0" y="2.55" text-anchor="end" font-size="7.3" font-weight="normal" fill="#1e1e1e" stroke="#1e1e1e" stroke-width="0.22">3</text>
<text transform="translate(166.29,433.8) rotate(-45)" x="0" y="2.55" text-anchor="end" font-size="7.3" font-weight="normal" fill="#1e1e1e" stroke="#1e1e1e" stroke-width="0.22">3.17</text>
<text transform="translate(183.15,433.8) rotate(-45)" x="0" y="2.55" text-anchor="end" font-size="7.3" font-weight="normal" fill="#1e1e1e" stroke="#1e1e1e" stroke-width="0.22">3.25</text>
<text transform="translate(200.01,433.8) rotate(-45)" x="0" y="2.55" text-anchor="end" font-size="7.3" font-weight="normal" fill="#1e1e1e" stroke="#1e1e1e" stroke-width="0.22">3.5</text>
<text transform="translate(216.87,433.8) rotate(-45)" x="0" y="2.55" text-anchor="end" font-size="7.3" font-weight="normal" fill="#1e1e1e" stroke="#1e1e1e" stroke-width="0.22">3.75</text>
<text transform="translate(233.73,433.8) rotate(-45)" x="0" y="2.55" text-anchor="end" font-size="7.3" font-weight="normal" fill="#1e1e1e" stroke="#1e1e1e" stroke-width="0.22">4</text>
<text transform="translate(250.59,433.8) rotate(-45)" x="0" y="2.55" text-anchor="end" font-size="7.3" font-weight="normal" fill="#1e1e1e" stroke="#1e1e1e" stroke-width="0.22">4.25</text>
<text transform="translate(267.45,433.8) rotate(-45)" x="0" y="2.55" text-anchor="end" font-size="7.3" font-weight="normal" fill="#1e1e1e" stroke="#1e1e1e" stroke-width="0.22">4.5</text>
<text transform="translate(284.31,433.8) rotate(-45)" x="0" y="2.55" text-anchor="end" font-size="7.3" font-weight="normal" fill="#1e1e1e" stroke="#1e1e1e" stroke-width="0.22">5</text>
<text transform="translate(301.17,433.8) rotate(-45)" x="0" y="2.55" text-anchor="end" font-size="7.3" font-weight="normal" fill="#1e1e1e" stroke="#1e1e1e" stroke-width="0.22">6</text>
<text transform="translate(318.03,433.8) rotate(-45)" x="0" y="2.55" text-anchor="end" font-size="7.3" font-weight="normal" fill="#1e1e1e" stroke="#1e1e1e" stroke-width="0.22">7</text>
<text transform="translate(110.58,262.49) scale(1.03,1)" font-size="10.6" font-weight="normal" fill="#1e1e1e" stroke="#1e1e1e" stroke-width="0.22" >1287±35 mg/L</text>
<text transform="translate(117.28,457.34) scale(1.01,1)" font-size="10.4" font-weight="bold" fill="#1e1e1e" stroke="#1e1e1e" stroke-width="0.22" >Growth Time at 37°C (Hours)</text>
<text transform="translate(16.57,393.1) rotate(-90) scale(0.91,1)" font-size="11.4" font-weight="bold" fill="#1e1e1e" stroke="#1e1e1e" stroke-width="0.22">Violacein Conc. (mg/L)</text>
<text transform="translate(5.4,253.1) scale(1.01,1)" font-size="19.8" font-weight="normal" fill="#1e1e1e" stroke="#1e1e1e" stroke-width="0.22" >c.</text>
<line x1="250.9" y1="240.8" x2="250.9" y2="295.3" stroke="#8c8c8c" stroke-width="1.2" />
<line x1="250.9" y1="295.3" x2="327.04" y2="295.3" stroke="#8c8c8c" stroke-width="1.2" />
<line x1="247.4" y1="295.3" x2="250.9" y2="295.3" stroke="#8c8c8c" stroke-width="1.2" />
<line x1="247.4" y1="268.06" x2="250.9" y2="268.06" stroke="#8c8c8c" stroke-width="1.2" />
<line x1="247.4" y1="240.82" x2="250.9" y2="240.82" stroke="#8c8c8c" stroke-width="1.2" />
<line x1="250.9" y1="295.3" x2="250.9" y2="298.3" stroke="#8c8c8c" stroke-width="1.2" />
<line x1="276.28" y1="295.3" x2="276.28" y2="298.3" stroke="#8c8c8c" stroke-width="1.2" />
<line x1="301.66" y1="295.3" x2="301.66" y2="298.3" stroke="#8c8c8c" stroke-width="1.2" />
<line x1="327.04" y1="295.3" x2="327.04" y2="298.3" stroke="#8c8c8c" stroke-width="1.2" />
<text transform="translate(235.1,246.54)" font-size="10.2" font-weight="normal" fill="#1e1e1e" stroke="#1e1e1e" stroke-width="0.22" >6</text>
<text transform="translate(235.1,273.94)" font-size="10.2" font-weight="normal" fill="#1e1e1e" stroke="#1e1e1e" stroke-width="0.22" >3</text>
<text transform="translate(235.05,301.04)" font-size="10.2" font-weight="normal" fill="#1e1e1e" stroke="#1e1e1e" stroke-width="0.22" >0</text>
<text transform="translate(248.27,314.34)" font-size="10.2" font-weight="normal" fill="#1e1e1e" stroke="#1e1e1e" stroke-width="0.22" >0</text>
<text transform="translate(273.68,314.34)" font-size="10.2" font-weight="normal" fill="#1e1e1e" stroke="#1e1e1e" stroke-width="0.22" >3</text>
<text transform="translate(299,314.34)" font-size="10.2" font-weight="normal" fill="#1e1e1e" stroke="#1e1e1e" stroke-width="0.22" >6</text>
<text transform="translate(324.41,314.34)" font-size="10.2" font-weight="normal" fill="#1e1e1e" stroke="#1e1e1e" stroke-width="0.22" >9</text>
<text transform="translate(264.51,324.65) scale(0.95,1)" font-size="10" font-weight="bold" fill="#1e1e1e" stroke="#1e1e1e" stroke-width="0.22" >Time (hr)</text>
<text transform="translate(228.14,284.44) rotate(-90) scale(0.84,1)" font-size="10.2" font-weight="bold" fill="#1e1e1e" stroke="#1e1e1e" stroke-width="0.22">OD</text>
<text transform="translate(230.08,270.31) rotate(-90) scale(0.95,1)" font-size="6.4" font-weight="bold" fill="#1e1e1e" stroke="#1e1e1e" stroke-width="0.22">600</text>
<polyline points="250.7,295 258.7,295.4 268.2,293.4 276.4,288.6 286,281.1 294.2,270.8 301.7,262 310.6,253.8 319.9,244.9" fill="none" stroke="#1f8a1f" stroke-width="2" stroke-linejoin="round" stroke-linecap="round"/>
<line x1="399.6" y1="240.3" x2="399.6" y2="428.8" stroke="#8c8c8c" stroke-width="1.2" />
<line x1="626.8" y1="241.2" x2="626.8" y2="428.8" stroke="#8c8c8c" stroke-width="1.2" />
<line x1="399.6" y1="428.8" x2="626.8" y2="428.8" stroke="#8c8c8c" stroke-width="1.2" />
<line x1="395.6" y1="428.8" x2="399.6" y2="428.8" stroke="#8c8c8c" stroke-width="1.2" />
<text transform="translate(382.69,434.33)" font-size="10.9" font-weight="normal" fill="#1e1e1e" stroke="#1e1e1e" stroke-width="0.22" >0</text>
<line x1="395.6" y1="397.32" x2="399.6" y2="397.32" stroke="#8c8c8c" stroke-width="1.2" />
<text transform="translate(382.69,402.75)" font-size="10.9" font-weight="normal" fill="#1e1e1e" stroke="#1e1e1e" stroke-width="0.22" >5</text>
<line x1="395.6" y1="365.85" x2="399.6" y2="365.85" stroke="#8c8c8c" stroke-width="1.2" />
<text transform="translate(376.64,371.38)" font-size="10.9" font-weight="normal" fill="#1e1e1e" stroke="#1e1e1e" stroke-width="0.22" >10</text>
<line x1="395.6" y1="334.38" x2="399.6" y2="334.38" stroke="#8c8c8c" stroke-width="1.2" />
<text transform="translate(376.64,339.8)" font-size="10.9" font-weight="normal" fill="#1e1e1e" stroke="#1e1e1e" stroke-width="0.22" >15</text>
<line x1="395.6" y1="302.9" x2="399.6" y2="302.9" stroke="#8c8c8c" stroke-width="1.2" />
<text transform="translate(376.64,308.43)" font-size="10.9" font-weight="normal" fill="#1e1e1e" stroke="#1e1e1e" stroke-width="0.22" >20</text>
<line x1="395.6" y1="271.43" x2="399.6" y2="271.43" stroke="#8c8c8c" stroke-width="1.2" />
<text transform="translate(376.64,276.95)" font-size="10.9" font-weight="normal" fill="#1e1e1e" stroke="#1e1e1e" stroke-width="0.22" >25</text>
<line x1="395.6" y1="239.95" x2="399.6" y2="239.95" stroke="#8c8c8c" stroke-width="1.2" />
<text transform="translate(376.64,245.48)" font-size="10.9" font-weight="normal" fill="#1e1e1e" stroke="#1e1e1e" stroke-width="0.22" >30</text>
<line x1="626.8" y1="428.8" x2="630.3" y2="428.8" stroke="#8c8c8c" stroke-width="1.2" />
<text transform="translate(638.08,433.62)" font-size="10.6" font-weight="normal" fill="#1e1e1e" stroke="#1e1e1e" stroke-width="0.22" >0</text>
<line x1="626.8" y1="384.05" x2="630.3" y2="384.05" stroke="#8c8c8c" stroke-width="1.2" />
<text transform="translate(638.08,388.87)" font-size="10.6" font-weight="normal" fill="#1e1e1e" stroke="#1e1e1e" stroke-width="0.22" >500</text>
<line x1="626.8" y1="339.3" x2="630.3" y2="339.3" stroke="#8c8c8c" stroke-width="1.2" />
<text transform="translate(637.71,344.12)" font-size="10.6" font-weight="normal" fill="#1e1e1e" stroke="#1e1e1e" stroke-width="0.22" >1000</text>
<line x1="626.8" y1="294.55" x2="630.3" y2="294.55" stroke="#8c8c8c" stroke-width="1.2" />
<text transform="translate(637.71,299.37)" font-size="10.6" font-weight="normal" fill="#1e1e1e" stroke="#1e1e1e" stroke-width="0.22" >1500</text>
<line x1="626.8" y1="249.8" x2="630.3" y2="249.8" stroke="#8c8c8c" stroke-width="1.2" />
<text transform="translate(637.97,254.62)" font-size="10.6" font-weight="normal" fill="#1e1e1e" stroke="#1e1e1e" stroke-width="0.22" >2000</text>
<line x1="399.5" y1="428.8" x2="399.5" y2="432.3" stroke="#8c8c8c" stroke-width="1.2" />
<text transform="translate(397.08,448.63)" font-size="10.9" font-weight="normal" fill="#1e1e1e" stroke="#1e1e1e" stroke-width="0.22" >0</text>
<line x1="456.3" y1="428.8" x2="456.3" y2="432.3" stroke="#8c8c8c" stroke-width="1.2" />
<text transform="translate(450.66,448.63)" font-size="10.9" font-weight="normal" fill="#1e1e1e" stroke="#1e1e1e" stroke-width="0.22" >10</text>
<line x1="513.1" y1="428.8" x2="513.1" y2="432.3" stroke="#8c8c8c" stroke-width="1.2" />
<text transform="translate(507.6,448.63)" font-size="10.9" font-weight="normal" fill="#1e1e1e" stroke="#1e1e1e" stroke-width="0.22" >20</text>
<line x1="569.9" y1="428.8" x2="569.9" y2="432.3" stroke="#8c8c8c" stroke-width="1.2" />
<text transform="translate(564.45,448.63)" font-size="10.9" font-weight="normal" fill="#1e1e1e" stroke="#1e1e1e" stroke-width="0.22" >30</text>
<line x1="626.7" y1="428.8" x2="626.7" y2="432.3" stroke="#8c8c8c" stroke-width="1.2" />
<text transform="translate(621.33,448.63)" font-size="10.9" font-weight="normal" fill="#1e1e1e" stroke="#1e1e1e" stroke-width="0.22" >40</text>
<line x1="399.5" y1="295" x2="399.5" y2="305" stroke="#333" stroke-width="1" />
<line x1="396.75" y1="295" x2="402.25" y2="295" stroke="#333" stroke-width="1" />
<line x1="396.75" y1="305" x2="402.25" y2="305" stroke="#333" stroke-width="1" />
<line x1="450.3" y1="318" x2="450.3" y2="326.5" stroke="#333" stroke-width="1" />
<line x1="447.55" y1="318" x2="453.05" y2="318" stroke="#333" stroke-width="1" />
<line x1="447.55" y1="326.5" x2="453.05" y2="326.5" stroke="#333" stroke-width="1" />
<line x1="464.4" y1="341.5" x2="464.4" y2="348.3" stroke="#333" stroke-width="1" />
<line x1="461.65" y1="341.5" x2="467.15" y2="341.5" stroke="#333" stroke-width="1" />
<line x1="461.65" y1="348.3" x2="467.15" y2="348.3" stroke="#333" stroke-width="1" />
<line x1="488" y1="359" x2="488" y2="365" stroke="#333" stroke-width="1" />
<line x1="485.25" y1="359" x2="490.75" y2="359" stroke="#333" stroke-width="1" />
<line x1="485.25" y1="365" x2="490.75" y2="365" stroke="#333" stroke-width="1" />
<line x1="499.4" y1="357.7" x2="499.4" y2="373.2" stroke="#333" stroke-width="1" />
<line x1="496.65" y1="357.7" x2="502.15" y2="357.7" stroke="#333" stroke-width="1" />
<line x1="496.65" y1="373.2" x2="502.15" y2="373.2" stroke="#333" stroke-width="1" />
<line x1="464.5" y1="395.4" x2="464.5" y2="405.1" stroke="#333" stroke-width="1" />
<line x1="461.75" y1="395.4" x2="467.25" y2="395.4" stroke="#333" stroke-width="1" />
<line x1="461.75" y1="405.1" x2="467.25" y2="405.1" stroke="#333" stroke-width="1" />
<line x1="488" y1="335.5" x2="488" y2="342.9" stroke="#333" stroke-width="1" />
<line x1="485.25" y1="335.5" x2="490.75" y2="335.5" stroke="#333" stroke-width="1" />
<line x1="485.25" y1="342.9" x2="490.75" y2="342.9" stroke="#333" stroke-width="1" />
<line x1="538.1" y1="264" x2="538.1" y2="279.4" stroke="#333" stroke-width="1" />
<line x1="535.35" y1="264" x2="540.85" y2="264" stroke="#333" stroke-width="1" />
<line x1="535.35" y1="279.4" x2="540.85" y2="279.4" stroke="#333" stroke-width="1" />
<line x1="564.5" y1="248.7" x2="564.5" y2="280.8" stroke="#333" stroke-width="1" />
<line x1="561.75" y1="248.7" x2="567.25" y2="248.7" stroke="#333" stroke-width="1" />
<line x1="561.75" y1="280.8" x2="567.25" y2="280.8" stroke="#333" stroke-width="1" />
<line x1="591.5" y1="261.2" x2="591.5" y2="268.8" stroke="#333" stroke-width="1" />
<line x1="588.75" y1="261.2" x2="594.25" y2="261.2" stroke="#333" stroke-width="1" />
<line x1="588.75" y1="268.8" x2="594.25" y2="268.8" stroke="#333" stroke-width="1" />
<line x1="499.4" y1="322" x2="499.4" y2="330" stroke="#333" stroke-width="1" />
<line x1="496.65" y1="322" x2="502.15" y2="322" stroke="#333" stroke-width="1" />
<line x1="496.65" y1="330" x2="502.15" y2="330" stroke="#333" stroke-width="1" />
<line x1="476.5" y1="357" x2="476.5" y2="364" stroke="#333" stroke-width="1" />
<line x1="473.75" y1="357" x2="479.25" y2="357" stroke="#333" stroke-width="1" />
<line x1="473.75" y1="364" x2="479.25" y2="364" stroke="#333" stroke-width="1" />
<line x1="488" y1="345" x2="488" y2="353" stroke="#333" stroke-width="1" />
<line x1="485.25" y1="345" x2="490.75" y2="345" stroke="#333" stroke-width="1" />
<line x1="485.25" y1="353" x2="490.75" y2="353" stroke="#333" stroke-width="1" />
<line x1="499.4" y1="332" x2="499.4" y2="342" stroke="#333" stroke-width="1" />
<line x1="496.65" y1="332" x2="502.15" y2="332" stroke="#333" stroke-width="1" />
<line x1="496.65" y1="342" x2="502.15" y2="342" stroke="#333" stroke-width="1" />
<line x1="538.1" y1="317.5" x2="538.1" y2="322" stroke="#333" stroke-width="1" />
<line x1="535.35" y1="317.5" x2="540.85" y2="317.5" stroke="#333" stroke-width="1" />
<line x1="535.35" y1="322" x2="540.85" y2="322" stroke="#333" stroke-width="1" />
<line x1="564.6" y1="297.3" x2="564.6" y2="306.3" stroke="#333" stroke-width="1" />
<line x1="561.85" y1="297.3" x2="567.35" y2="297.3" stroke="#333" stroke-width="1" />
<line x1="561.85" y1="306.3" x2="567.35" y2="306.3" stroke="#333" stroke-width="1" />
<line x1="591.5" y1="296.7" x2="591.5" y2="305.4" stroke="#333" stroke-width="1" />
<line x1="588.75" y1="296.7" x2="594.25" y2="296.7" stroke="#333" stroke-width="1" />
<line x1="588.75" y1="305.4" x2="594.25" y2="305.4" stroke="#333" stroke-width="1" />
<polyline points="399.5,383.75 404.7,384.5 410.7,384.65 417.4,385 419.7,385.4 425.6,385.4 431.6,385.4 437.2,385.4 442.8,386.1 450.6,387.2 463.8,387.6 476.5,388.8 487.7,389.7 499.25,390.5 538.1,393.2 565,395 592.1,395" fill="none" stroke="#f08a3c" stroke-width="2.5" stroke-linejoin="round"/>
<polyline points="399.5,299.4 404.7,295 409.9,299.4 417.4,304.7 425.6,313.6 435.4,320.7 442.1,322.6 450.3,322.6 464.4,344.9 476.5,353 488,361.7 499.4,365.8 538.1,401.3 565,413.8 592.1,419.3" fill="none" stroke="#e41e1e" stroke-width="2.5" stroke-linejoin="round"/>
<polyline points="399.5,428.8 404.7,428.6 410.7,427.3 417.4,423 419.7,421.6 425.6,419 431.6,416.6 437.2,413.8 442.8,407.1 451.1,400.3 464.2,388 476.5,373.6 488,348.9 499.4,337.2 538.2,319.8 564.6,301.9 591.5,301.2" fill="none" stroke="#1f8a1f" stroke-width="2.5" stroke-linejoin="round"/>
<polyline points="399.8,428.7 404.8,428.7 410.8,428.7 418.6,428.7 425.6,428.7 431.8,428.7 437.5,428.7 443,425.6 450.3,418 464.5,396.9 476.5,360.4 488,339.5 499.4,326 538.1,271.7 564.5,265 591.5,265" fill="none" stroke="#8a2be2" stroke-width="2.5" stroke-linejoin="round"/>
<rect x="396.9" y="381.15" width="5.2" height="5.2" fill="#f07f2a" stroke="#5a2a0a" stroke-width="0.8" />
<rect x="402.1" y="381.9" width="5.2" height="5.2" fill="#f07f2a" stroke="#5a2a0a" stroke-width="0.8" />
<rect x="408.1" y="382.05" width="5.2" height="5.2" fill="#f07f2a" stroke="#5a2a0a" stroke-width="0.8" />
<rect x="414.8" y="382.4" width="5.2" height="5.2" fill="#f07f2a" stroke="#5a2a0a" stroke-width="0.8" />
<rect x="417.1" y="382.8" width="5.2" height="5.2" fill="#f07f2a" stroke="#5a2a0a" stroke-width="0.8" />
<rect x="423" y="382.8" width="5.2" height="5.2" fill="#f07f2a" stroke="#5a2a0a" stroke-width="0.8" />
<rect x="429" y="382.8" width="5.2" height="5.2" fill="#f07f2a" stroke="#5a2a0a" stroke-width="0.8" />
<rect x="434.6" y="382.8" width="5.2" height="5.2" fill="#f07f2a" stroke="#5a2a0a" stroke-width="0.8" />
<rect x="440.2" y="383.5" width="5.2" height="5.2" fill="#f07f2a" stroke="#5a2a0a" stroke-width="0.8" />
<rect x="448" y="384.6" width="5.2" height="5.2" fill="#f07f2a" stroke="#5a2a0a" stroke-width="0.8" />
<rect x="461.2" y="385" width="5.2" height="5.2" fill="#f07f2a" stroke="#5a2a0a" stroke-width="0.8" />
<rect x="473.9" y="386.2" width="5.2" height="5.2" fill="#f07f2a" stroke="#5a2a0a" stroke-width="0.8" />
<rect x="485.1" y="387.1" width="5.2" height="5.2" fill="#f07f2a" stroke="#5a2a0a" stroke-width="0.8" />
<rect x="496.65" y="387.9" width="5.2" height="5.2" fill="#f07f2a" stroke="#5a2a0a" stroke-width="0.8" />
<rect x="535.5" y="390.6" width="5.2" height="5.2" fill="#f07f2a" stroke="#5a2a0a" stroke-width="0.8" />
<rect x="562.4" y="392.4" width="5.2" height="5.2" fill="#f07f2a" stroke="#5a2a0a" stroke-width="0.8" />
<rect x="589.5" y="392.4" width="5.2" height="5.2" fill="#f07f2a" stroke="#5a2a0a" stroke-width="0.8" />
<path d="M397,296.9L402,301.9M397,301.9L402,296.9" stroke="#2a0a0a" stroke-width="1.4"/>
<path d="M402.2,292.5L407.2,297.5M402.2,297.5L407.2,292.5" stroke="#2a0a0a" stroke-width="1.4"/>
<path d="M407.4,296.9L412.4,301.9M407.4,301.9L412.4,296.9" stroke="#2a0a0a" stroke-width="1.4"/>
<path d="M414.9,302.2L419.9,307.2M414.9,307.2L419.9,302.2" stroke="#2a0a0a" stroke-width="1.4"/>
<path d="M423.1,311.1L428.1,316.1M423.1,316.1L428.1,311.1" stroke="#2a0a0a" stroke-width="1.4"/>
<path d="M432.9,318.2L437.9,323.2M432.9,323.2L437.9,318.2" stroke="#2a0a0a" stroke-width="1.4"/>
<path d="M439.6,320.1L444.6,325.1M439.6,325.1L444.6,320.1" stroke="#2a0a0a" stroke-width="1.4"/>
<path d="M447.8,320.1L452.8,325.1M447.8,325.1L452.8,320.1" stroke="#2a0a0a" stroke-width="1.4"/>
<path d="M461.9,342.4L466.9,347.4M461.9,347.4L466.9,342.4" stroke="#2a0a0a" stroke-width="1.4"/>
<path d="M474,350.5L479,355.5M474,355.5L479,350.5" stroke="#2a0a0a" stroke-width="1.4"/>
<path d="M485.5,359.2L490.5,364.2M485.5,364.2L490.5,359.2" stroke="#2a0a0a" stroke-width="1.4"/>
<path d="M496.9,363.3L501.9,368.3M496.9,368.3L501.9,363.3" stroke="#2a0a0a" stroke-width="1.4"/>
<path d="M535.6,398.8L540.6,403.8M535.6,403.8L540.6,398.8" stroke="#2a0a0a" stroke-width="1.4"/>
<path d="M562.5,411.3L567.5,416.3M562.5,416.3L567.5,411.3" stroke="#2a0a0a" stroke-width="1.4"/>
<path d="M589.6,416.8L594.6,421.8M589.6,421.8L594.6,416.8" stroke="#2a0a0a" stroke-width="1.4"/>
<path d="M399.5,425.6L402.7,428.8L399.5,432L396.3,428.8Z" fill="#1a7a1a" stroke="#0a2a0a" stroke-width="0.8"/>
<path d="M404.7,425.4L407.9,428.6L404.7,431.8L401.5,428.6Z" fill="#1a7a1a" stroke="#0a2a0a" stroke-width="0.8"/>
<path d="M410.7,424.1L413.9,427.3L410.7,430.5L407.5,427.3Z" fill="#1a7a1a" stroke="#0a2a0a" stroke-width="0.8"/>
<path d="M417.4,419.8L420.6,423L417.4,426.2L414.2,423Z" fill="#1a7a1a" stroke="#0a2a0a" stroke-width="0.8"/>
<path d="M419.7,418.4L422.9,421.6L419.7,424.8L416.5,421.6Z" fill="#1a7a1a" stroke="#0a2a0a" stroke-width="0.8"/>
<path d="M425.6,415.8L428.8,419L425.6,422.2L422.4,419Z" fill="#1a7a1a" stroke="#0a2a0a" stroke-width="0.8"/>
<path d="M431.6,413.4L434.8,416.6L431.6,419.8L428.4,416.6Z" fill="#1a7a1a" stroke="#0a2a0a" stroke-width="0.8"/>
<path d="M437.2,410.6L440.4,413.8L437.2,417L434,413.8Z" fill="#1a7a1a" stroke="#0a2a0a" stroke-width="0.8"/>
<path d="M442.8,403.9L446,407.1L442.8,410.3L439.6,407.1Z" fill="#1a7a1a" stroke="#0a2a0a" stroke-width="0.8"/>
<path d="M451.1,397.1L454.3,400.3L451.1,403.5L447.9,400.3Z" fill="#1a7a1a" stroke="#0a2a0a" stroke-width="0.8"/>
<path d="M464.2,384.8L467.4,388L464.2,391.2L461,388Z" fill="#1a7a1a" stroke="#0a2a0a" stroke-width="0.8"/>
<path d="M476.5,370.4L479.7,373.6L476.5,376.8L473.3,373.6Z" fill="#1a7a1a" stroke="#0a2a0a" stroke-width="0.8"/>
<path d="M488,345.7L491.2,348.9L488,352.1L484.8,348.9Z" fill="#1a7a1a" stroke="#0a2a0a" stroke-width="0.8"/>
<path d="M499.4,334L502.6,337.2L499.4,340.4L496.2,337.2Z" fill="#1a7a1a" stroke="#0a2a0a" stroke-width="0.8"/>
<path d="M538.2,316.6L541.4,319.8L538.2,323L535,319.8Z" fill="#1a7a1a" stroke="#0a2a0a" stroke-width="0.8"/>
<path d="M564.6,298.7L567.8,301.9L564.6,305.1L561.4,301.9Z" fill="#1a7a1a" stroke="#0a2a0a" stroke-width="0.8"/>
<path d="M591.5,298L594.7,301.2L591.5,304.4L588.3,301.2Z" fill="#1a7a1a" stroke="#0a2a0a" stroke-width="0.8"/>
<path d="M399.8,425.4L402.8,431L396.8,431Z" fill="#6a1ad0" stroke="#2a0a5a" stroke-width="0.8"/>
<path d="M404.8,425.4L407.8,431L401.8,431Z" fill="#6a1ad0" stroke="#2a0a5a" stroke-width="0.8"/>
<path d="M410.8,425.4L413.8,431L407.8,431Z" fill="#6a1ad0" stroke="#2a0a5a" stroke-width="0.8"/>
<path d="M418.6,425.4L421.6,431L415.6,431Z" fill="#6a1ad0" stroke="#2a0a5a" stroke-width="0.8"/>
<path d="M425.6,425.4L428.6,431L422.6,431Z" fill="#6a1ad0" stroke="#2a0a5a" stroke-width="0.8"/>
<path d="M431.8,425.4L434.8,431L428.8,431Z" fill="#6a1ad0" stroke="#2a0a5a" stroke-width="0.8"/>
<path d="M437.5,425.4L440.5,431L434.5,431Z" fill="#6a1ad0" stroke="#2a0a5a" stroke-width="0.8"/>
<path d="M443,422.3L446,427.9L440,427.9Z" fill="#6a1ad0" stroke="#2a0a5a" stroke-width="0.8"/>
<path d="M450.3,414.7L453.3,420.3L447.3,420.3Z" fill="#6a1ad0" stroke="#2a0a5a" stroke-width="0.8"/>
<path d="M464.5,393.6L467.5,399.2L461.5,399.2Z" fill="#6a1ad0" stroke="#2a0a5a" stroke-width="0.8"/>
<path d="M476.5,357.1L479.5,362.7L473.5,362.7Z" fill="#6a1ad0" stroke="#2a0a5a" stroke-width="0.8"/>
<path d="M488,336.2L491,341.8L485,341.8Z" fill="#6a1ad0" stroke="#2a0a5a" stroke-width="0.8"/>
<path d="M499.4,322.7L502.4,328.3L496.4,328.3Z" fill="#6a1ad0" stroke="#2a0a5a" stroke-width="0.8"/>
<path d="M538.1,268.4L541.1,274L535.1,274Z" fill="#6a1ad0" stroke="#2a0a5a" stroke-width="0.8"/>
<path d="M564.5,261.7L567.5,267.3L561.5,267.3Z" fill="#6a1ad0" stroke="#2a0a5a" stroke-width="0.8"/>
<path d="M591.5,261.7L594.5,267.3L588.5,267.3Z" fill="#6a1ad0" stroke="#2a0a5a" stroke-width="0.8"/>
<rect x="422.3" y="241.5" width="78" height="49.1" fill="white" stroke="#555" stroke-width="1" />
<line x1="429.6" y1="248" x2="454.6" y2="248" stroke="#1f8a1f" stroke-width="2" />
<path d="M442.4,245.8L444.6,248L442.4,250.2L440.2,248Z" fill="#1a7a1a" stroke="#0a2a0a" stroke-width="0.8"/>
<line x1="429.6" y1="260.1" x2="454.6" y2="260.1" stroke="#f08a3c" stroke-width="2" />
<rect x="440.2" y="257.9" width="4.4" height="4.4" fill="#f07f2a" stroke="#5a2a0a" stroke-width="0.8" />
<line x1="429.6" y1="272.3" x2="454.6" y2="272.3" stroke="#e41e1e" stroke-width="2" />
<path d="M440.4,270.3L444.4,274.3M440.4,274.3L444.4,270.3" stroke="#2a0a0a" stroke-width="1.2"/>
<line x1="429.6" y1="284.5" x2="454.6" y2="284.5" stroke="#8a2be2" stroke-width="2" />
<path d="M442.4,281.9L444.9,286.4L439.9,286.4Z" fill="#4a10a0" stroke="#2a0a5a" stroke-width="0.8"/>
<text transform="translate(455.51,251.78) scale(1.02,1)" font-size="8.4" font-weight="normal" fill="#333" stroke="#333" stroke-width="0.22" >OD600</text>
<text transform="translate(455.28,263.9) scale(1.13,1)" font-size="8.4" font-weight="normal" fill="#333" stroke="#333" stroke-width="0.22" >pH</text>
<text transform="translate(455.48,276.39) scale(1.01,1)" font-size="8.4" font-weight="normal" fill="#333" stroke="#333" stroke-width="0.22" >Glucose</text>
<text transform="translate(455.86,288.49) scale(1.06,1)" font-size="8.4" font-weight="normal" fill="#333" stroke="#333" stroke-width="0.22" >Violacein</text>
<text transform="translate(401.96,379.91) scale(1.02,1)" font-size="10.6" font-weight="normal" fill="#1e1e1e" stroke="#1e1e1e" stroke-width="0.22" >7.1</text>
<text transform="translate(599.2,270.52) scale(1.01,1)" font-size="10.6" font-weight="normal" fill="#1e1e1e" stroke="#1e1e1e" stroke-width="0.22" >1829</text>
<text transform="translate(601.95,306.12) scale(1.04,1)" font-size="10.6" font-weight="normal" fill="#1e1e1e" stroke="#1e1e1e" stroke-width="0.22" >20.4</text>
<text transform="translate(602.56,401.02) scale(1.03,1)" font-size="10.6" font-weight="normal" fill="#1e1e1e" stroke="#1e1e1e" stroke-width="0.22" >5.3</text>
<text transform="translate(602.16,424.71) scale(1.06,1)" font-size="10.6" font-weight="normal" fill="#1e1e1e" stroke="#1e1e1e" stroke-width="0.22" >1.5</text>
<text transform="translate(434.1,458.84)" font-size="10.4" font-weight="bold" fill="#1e1e1e" stroke="#1e1e1e" stroke-width="0.22" >Time since Innoculation (Hours)</text>
<text transform="translate(678.32,393.3) rotate(-90) scale(0.92,1)" font-size="11.2" font-weight="bold" fill="#1e1e1e" stroke="#1e1e1e" stroke-width="0.22">Violacein Conc. (mg/L)</text>
<text transform="translate(365.72,426.47) rotate(-90) scale(0.92,1)" font-size="11.2" font-weight="bold" fill="#1e1e1e" stroke="#1e1e1e" stroke-width="0.22">pH, Residual Glucose (g/L), OD</text>
<text transform="translate(367.8,274.04) rotate(-90) scale(0.99,1)" font-size="7" font-weight="bold" fill="#1e1e1e" stroke="#1e1e1e" stroke-width="0.22">600</text>
<text transform="translate(346.31,252.6)" font-size="19.8" font-weight="normal" fill="#1e1e1e" stroke="#1e1e1e" stroke-width="0.22" >d.</text>
<rect x="1.8" y="1.9" width="680.7" height="463.3" fill="none" stroke="#000" stroke-width="1.9"/>
<line x1="342.2" y1="1" x2="342.2" y2="466" stroke="#000" stroke-width="2"/>
<line x1="1" y1="233.3" x2="683" y2="233.3" stroke="#000" stroke-width="2"/>
</svg>
</body></html>
